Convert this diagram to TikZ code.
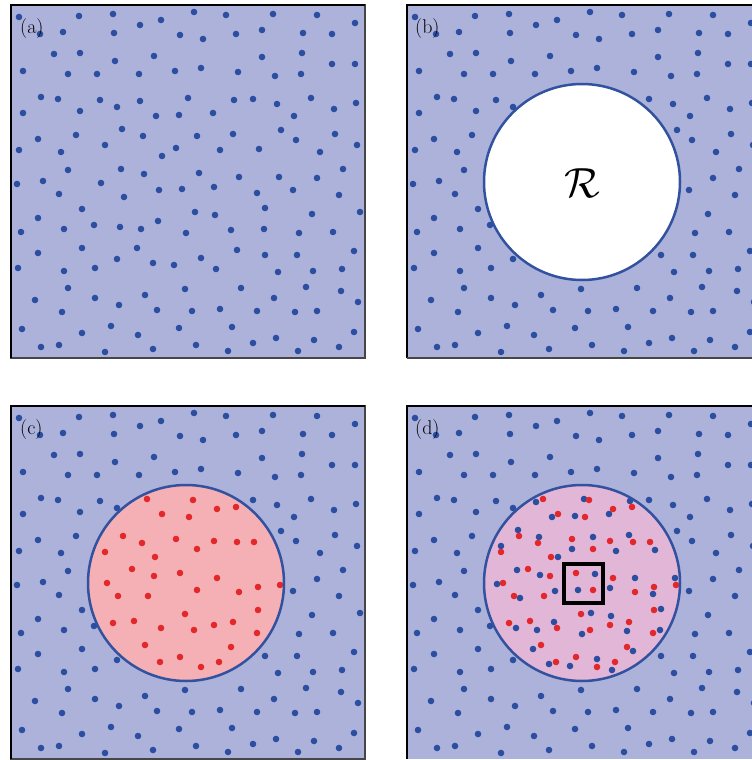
\documentclass[tikz,border=0pt]{standalone}
\usepackage{amsmath}
\usepackage{xcolor}
\usetikzlibrary{positioning}
\definecolor{lavender}{RGB}{172,178,218}
\definecolor{dotblue}{RGB}{44,78,160}
\definecolor{dotred}{RGB}{226,40,42}
\definecolor{discpink}{RGB}{245,176,182}
\definecolor{discmauve}{RGB}{226,182,214}
\definecolor{rimblue}{RGB}{50,82,160}
\tikzset{
  panelbg/.style={fill=lavender},
  bluedot/.style={fill=dotblue},
  reddot/.style={fill=dotred},
  rim/.style={draw=rimblue, line width=2.5bp},
  frame/.style={draw=gray!55!black, line width=1.3bp},
  shade/.style={draw=black, line width=2.6bp},
  lbl/.style={font=\fontsize{20}{20}\selectfont, inner sep=0pt, anchor=west},
  probe/.style={draw=black, line width=4bp}
}
% blue points (same pattern in every panel)
\def\bluelist{19/17,79/16,113/14,140/25,161/20,40/34,63/32,114/33,180/35,54/54,80/53,115/61,154/56,23/71,68/74,97/74,139/74,175/71,41/97,58/99,100/100,140/101,188/98,23/113,80/111,117/107,156/116,179/115,122/129,76/135,143/136,38/139,19/150,61/152,105/145,176/148,162/156,68/170,121/169,144/174,
194/12,226/15,273/14,317/15,355/23,203/39,236/34,262/30,303/33,332/34,262/57,302/53,332/64,355/64,201/68,238/72,275/76,301/74,234/100,253/99,277/104,311/98,334/109,356/103,213/113,294/116,197/136,233/134,281/130,296/140,335/134,220/150,259/149,320/152,357/145,343/169,199/173,239/177,279/177,317/178,
17/184,43/181,101/183,59/194,124/197,159/190,182/189,82/209,38/218,21/232,64/229,94/225,120/227,141/229,158/221,186/233,38/253,82/248,137/248,117/259,153/263,174/265,18/268,64/271,95/268,68/288,185/289,35/300,95/298,145/295,119/305,62/312,157/310,22/329,82/333,111/326,138/335,179/328,41/347,59/345,105/352,153/349,
214/187,257/193,293/190,339/195,195/212,215/215,265/208,312/214,360/212,231/230,264/229,299/233,333/232,237/250,265/255,297/255,354/251,201/258,216/269,278/272,313/271,342/269,241/288,306/287,341/291,274/298,358/302,192/311,220/309,257/311,295/312,317/311,232/327,354/332,196/345,228/351,253/343,276/338,298/351,314/340,339/347}
% red points inside the region
\def\redlist{147/98,193/99,217/108,236/106,162/113,189/116,123/135,142/142,176/138,214/140,237/141,254/141,105/151,197/148,155/156,132/168,154/175,180/172,217/177,107/182,280/184,258/186,197/189,239/191,118/195,148/195,258/209,185/213,113/222,134/220,161/227,194/229,214/224,233/221,257/232,145/244,231/246,160/261,180/256,201/266,219/261}

\begin{document}
\begin{tikzpicture}[x=1bp, y=-1bp]
  \useasboundingbox (0,0) rectangle (752,760);
  % (a) points only
  \begin{scope}
    \clip (11,5) rectangle (365,358);
    \fill[panelbg] (11,5) rectangle (365,358);
    \foreach \x/\y in \bluelist {\fill[bluedot] (\x,\y) circle[radius=3.3];}
    \node[lbl] (labA) at (20,29) {(a)};
  \end{scope}
  \draw[frame] (11,5) rectangle (365,358);
  \draw[shade] (11,358) |- (365,5);
  % (b) empty region R
  \begin{scope}[shift={(396,0)}]
    \begin{scope}
      \clip (11,5) rectangle (356,358);
      \fill[panelbg] (11,5) rectangle (365,358);
      \foreach \x/\y in \bluelist {\fill[bluedot] (\x,\y) circle[radius=3.3];}
      \path[fill=white, rim] (186,182) circle[radius=98];
      \node[font=\Huge, scale=1.7] (regR) at (186,183) {$\mathcal{R}$};
      \node[lbl] (labB) at (19,29) {(b)};
    \end{scope}
    \draw[shade] (11,358) |- (356,5);
    \draw[frame] (11,358) -- (356,358);
  \end{scope}
  % (c) region filled with red points
  \begin{scope}[shift={(0,401)}]
    \begin{scope}
      \clip (11,5) rectangle (365,358);
      \fill[panelbg] (11,5) rectangle (365,358);
      \foreach \x/\y in \bluelist {\fill[bluedot] (\x,\y) circle[radius=3.3];}
      \fill[discpink] (186,182) circle[radius=98];
      \foreach \x/\y in \redlist {\fill[reddot] (\x,\y) circle[radius=3.3];}
      \draw[rim] (186,182) circle[radius=98];
      \node[lbl] (labC) at (20,29) {(c)};
    \end{scope}
    \draw[frame] (11,5) rectangle (365,358);
    \draw[shade] (11,358) |- (365,5);
  \end{scope}
  % (d) both point sets overlaid, with window
  \begin{scope}[shift={(396,401)}]
    \begin{scope}
      \clip (11,5) rectangle (356,358);
      \fill[panelbg] (11,5) rectangle (365,358);
      \fill[discmauve] (186,182) circle[radius=98];
      \foreach \x/\y in \bluelist {\fill[bluedot] (\x,\y) circle[radius=3.3];}
      \begin{scope}
        \clip (186,182) circle[radius=98];
        \foreach \x/\y in \redlist {\fill[reddot] (\x,\y) circle[radius=3.3];}
      \end{scope}
      \draw[rim] (186,182) circle[radius=98];
      \draw[probe] (168,163) rectangle (207,202);
      \node[lbl] (labD) at (19,29) {(d)};
    \end{scope}
    \draw[shade] (11,358) |- (356,5);
  \end{scope}
\end{tikzpicture}
\end{document}
